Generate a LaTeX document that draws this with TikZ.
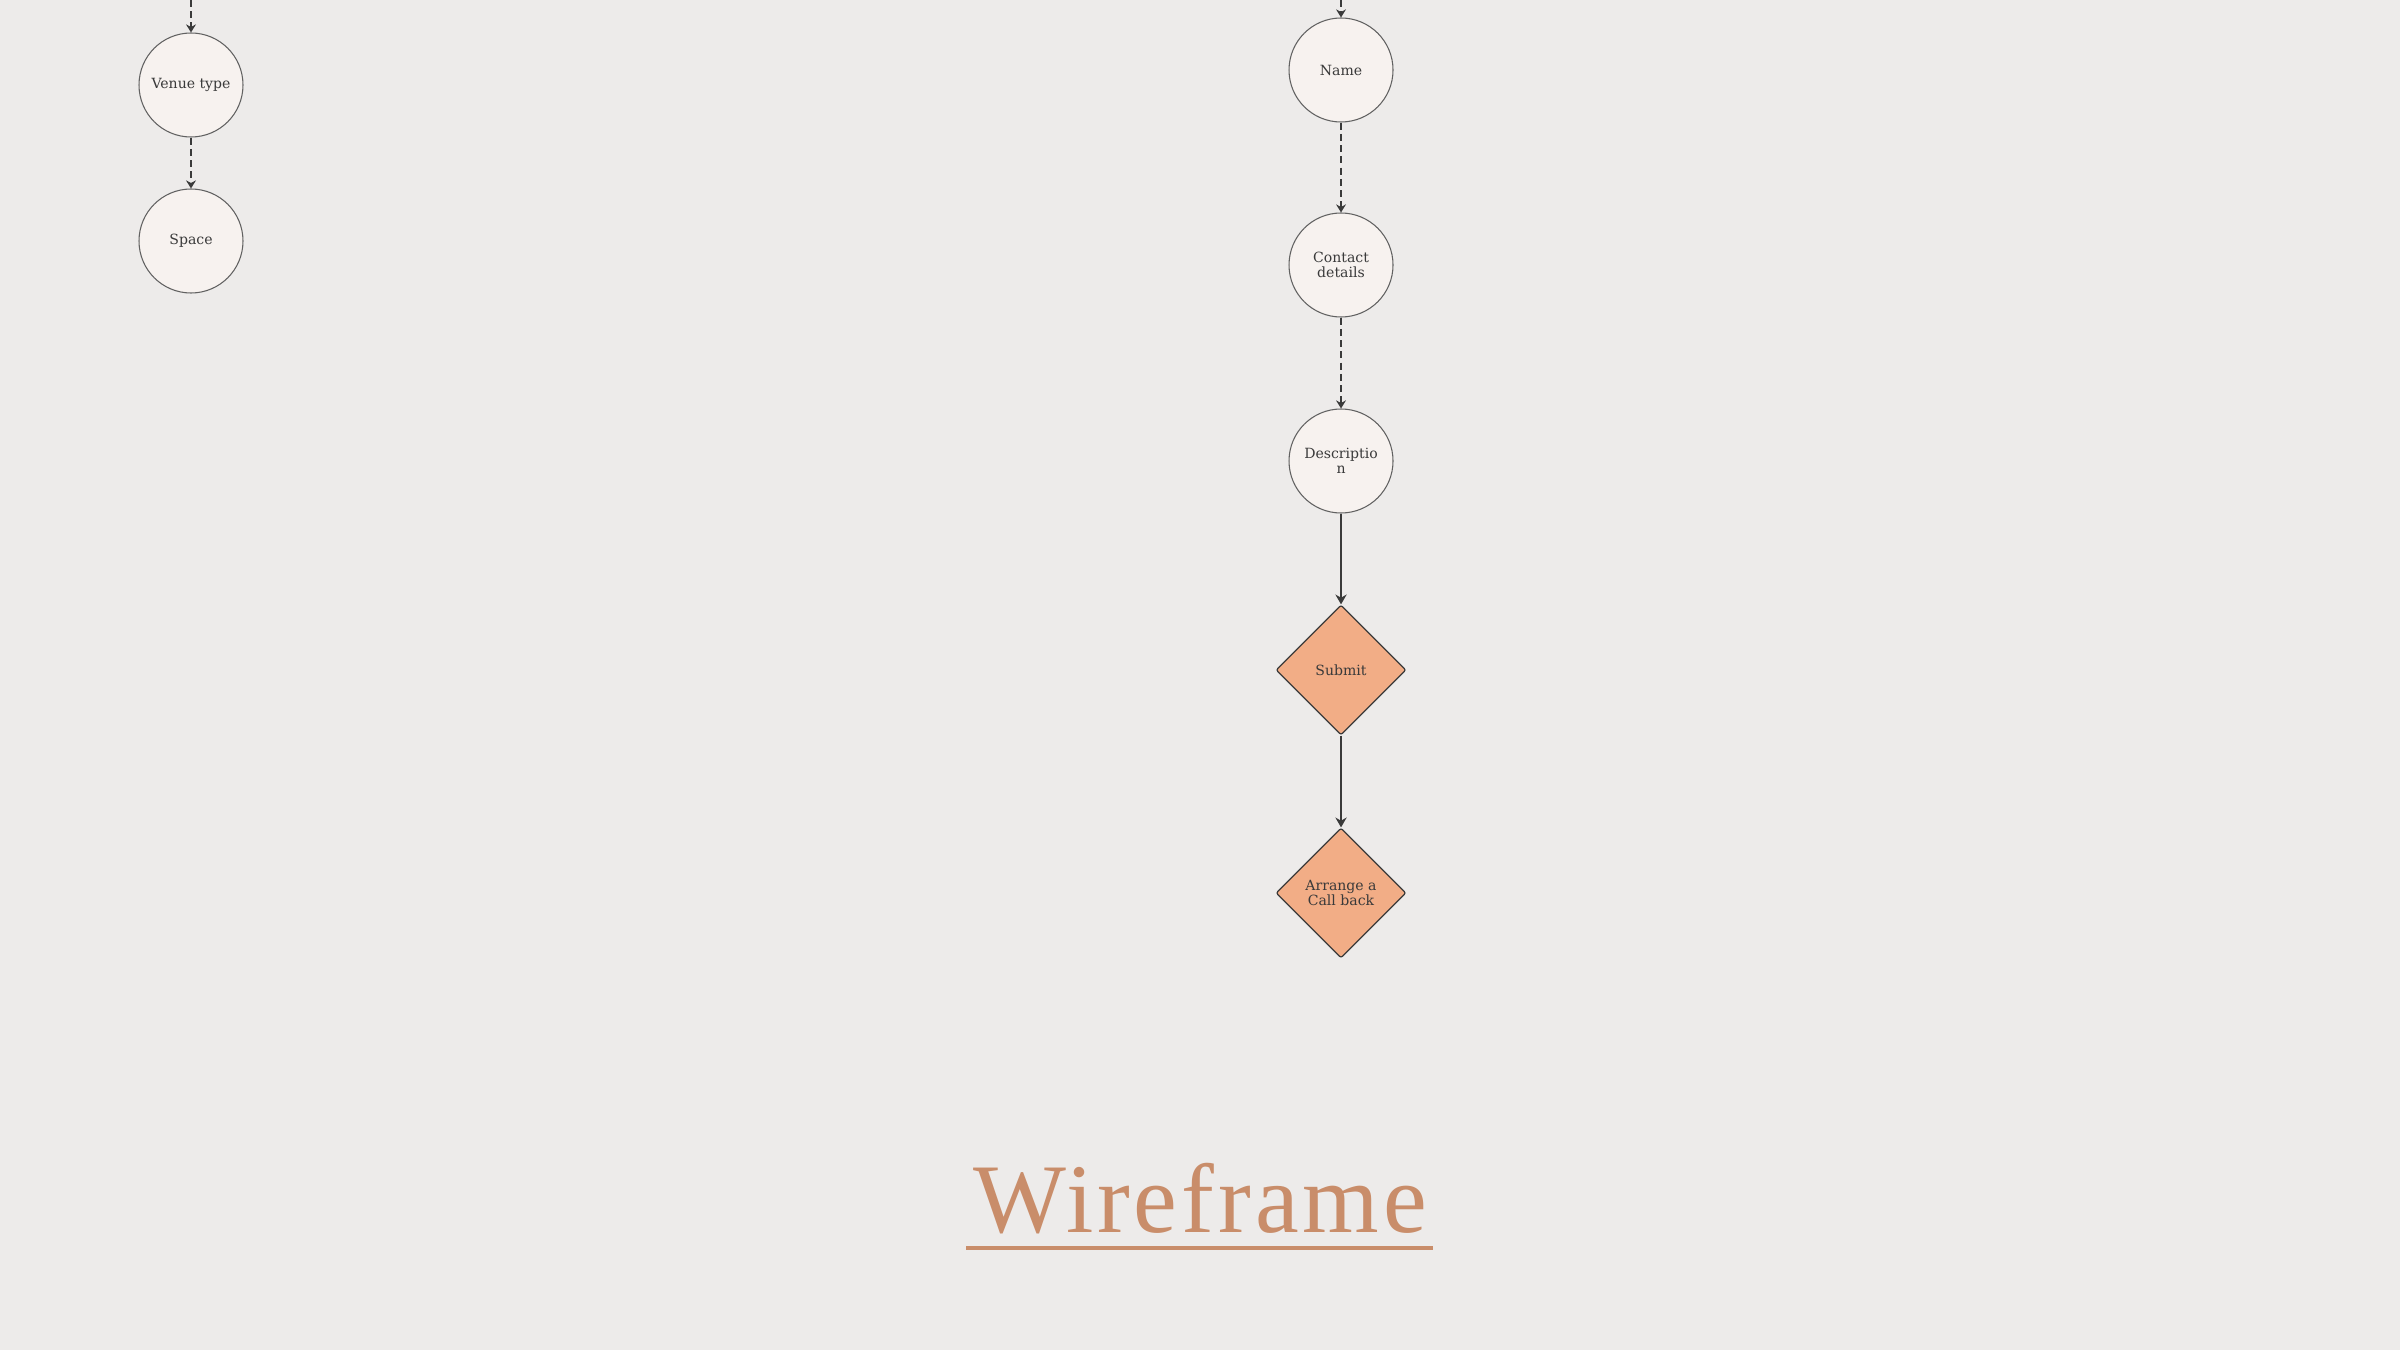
\documentclass[tikz,border=0pt]{standalone}
\usepackage{fontspec}
\setmainfont{DejaVu Serif}
\newfontfamily\titlefont[LetterSpace=4]{Liberation Serif}
\usetikzlibrary{shapes.geometric,arrows.meta}

\definecolor{paper}{HTML}{EDEBEA}
\definecolor{bubble}{HTML}{F7F2EF}
\definecolor{peach}{HTML}{F2AD86}
\definecolor{ink}{HTML}{3A3A3A}
\definecolor{copper}{HTML}{C98D6A}

\begin{document}
\begin{tikzpicture}[
    field/.style={circle, draw=ink!80, line width=0.3pt, fill=bubble, minimum size=1.04cm,
        inner sep=0pt, align=center, font=\fontsize{4}{4.3}\selectfont, text=ink},
    action/.style={diamond, draw=ink, line width=0.35pt, fill=peach, minimum width=1.3cm,
        minimum height=1.3cm, inner sep=0pt, aspect=1, rounded corners=0.6pt, align=center,
        font=\fontsize{4}{4.3}\selectfont, text=ink},
    dashlink/.style={draw=ink, line width=0.45pt, dash pattern=on 2pt off 1.2pt,
        -{Stealth[length=2.3pt,width=2.8pt]}},
    solidlink/.style={draw=ink, line width=0.6pt, -{Stealth[length=2.8pt,width=3.2pt]}}
]
    % Page
    \fill[paper] (0,0) rectangle (24,13.5);
    \useasboundingbox (0,0) rectangle (24,13.5);

    % Venue column
    \coordinate (topL) at (1.91,13.5);
    \node[field] (venue) at (1.91,12.65) {Venue type};
    \node[field] (space) at (1.91,11.09) {Space};
    \draw[dashlink] (topL) -- (venue);
    \draw[dashlink] (venue) -- (space);

    % Enquiry column
    \coordinate (topR) at (13.41,13.5);
    \node[field] (name) at (13.41,12.80) {Name};
    \node[field] (contact) at (13.41,10.85) {Contact\\details};
    \node[field] (descr) at (13.41,8.89) {Descriptio\\n};
    \node[action] (submit) at (13.41,6.80) {Submit};
    \node[action] (callback) at (13.41,4.57) {Arrange a\\Call back};
    \draw[dashlink] (topR) -- (name);
    \draw[dashlink] (name) -- (contact);
    \draw[dashlink] (contact) -- (descr);
    \draw[solidlink] (descr) -- (submit);
    \draw[solidlink] (submit) -- (callback);

    % Title
    \node[text=copper, anchor=base, inner sep=0pt] (title) at (12.0,1.18)
        {\titlefont\fontsize{28}{30}\selectfont Wireframe};
    \draw[copper, line width=1.4pt] (9.66,1.02) -- (14.33,1.02);
\end{tikzpicture}
\end{document}
